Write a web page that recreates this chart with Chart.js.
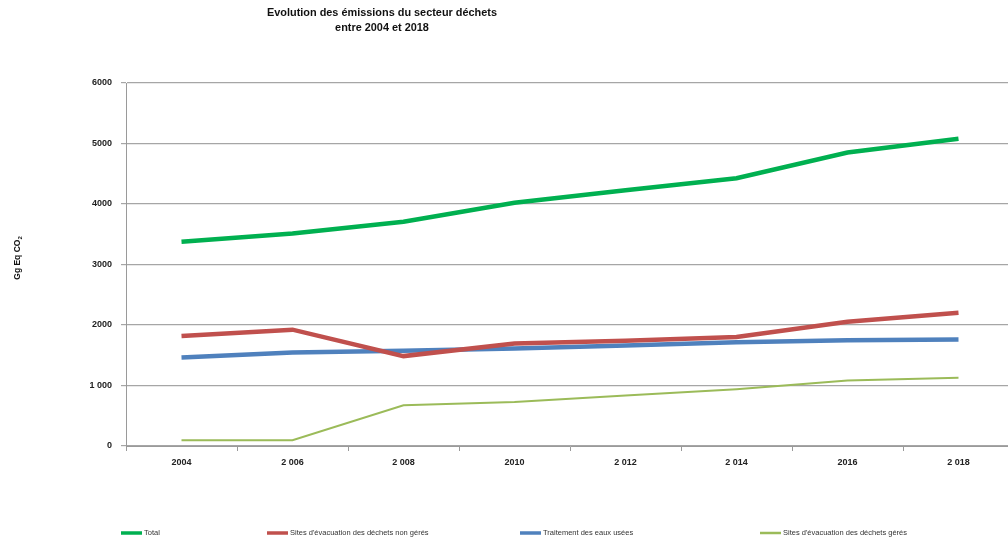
<!DOCTYPE html>
<html>
<head>
<meta charset="utf-8">
<script src="https://cdn.jsdelivr.net/npm/chart.js@4/dist/chart.umd.min.js"></script>
<style>
  html, body { margin: 0; padding: 0; background: #fff; overflow: hidden; }
  #wrap { width: 1008px; height: 541px; overflow: hidden; position: relative; }
  #chart { display: block; }
</style>
</head>
<body>
<div id="wrap"><canvas id="chart" width="1014" height="541"></canvas></div>
<script>
const years = ["2004", "2 006", "2 008", "2010", "2 012", "2 014", "2016", "2 018"];
const yTickLabels = { 0: "0", 1000: "1 000", 2000: "2000", 3000: "3000", 4000: "4000", 5000: "5000", 6000: "6000" };

const total = [3376, 3514, 3707, 4022, 4226, 4425, 4851, 5077];
const sitesNonGeres = [1818, 1923, 1486, 1696, 1740, 1801, 2055, 2204];
const eauxUsees = [1464, 1547, 1575, 1613, 1663, 1713, 1746, 1762];
const sitesGeres = [94, 94, 674, 729, 834, 939, 1083, 1127];

const seriesNames = [
  "Total",
  "Sites d'évacuation des déchets non gérés",
  "Traitement des eaux usées",
  "Sites d'évacuation des déchets gérés",
];
const titleLines = ["Evolution des émissions du secteur déchets", "entre 2004 et 2018"];

const FONT = "'Liberation Sans Narrow', 'Liberation Sans', sans-serif";

// title, rotated axis label with subscript, and a spread-out legend row
const decorations = {
  id: "decorations",
  afterDraw(chart) {
    const ctx = chart.ctx;
    ctx.save();
    ctx.fillStyle = "#111";
    ctx.textAlign = "center";
    ctx.textBaseline = "middle";
    ctx.font = "bold 10.9px 'Liberation Sans', sans-serif";
    ctx.fillText(titleLines[0], 382, 13);
    ctx.fillText(titleLines[1], 382, 28);

    // "Gg Eq CO2" rotated
    ctx.translate(18, 258);
    ctx.rotate(-Math.PI / 2);
    ctx.font = "bold 8.5px 'Liberation Sans', sans-serif";
    ctx.textAlign = "left";
    const main = "Gg Eq CO";
    const w = ctx.measureText(main).width;
    const sw = ctx.measureText("2").width * 0.7;
    const x0 = -(w + sw) / 2;
    ctx.fillText(main, x0, 0);
    ctx.font = "bold 6px 'Liberation Sans', sans-serif";
    ctx.fillText("2", x0 + w, 2.5);
    ctx.restore();

    const legendX = [121, 267, 520, 760];
    ctx.save();
    ctx.font = "7.5px " + FONT;
    ctx.textBaseline = "middle";
    ctx.textAlign = "left";
    chart.data.datasets.forEach((ds, i) => {
      const x = legendX[i];
      ctx.strokeStyle = ds.borderColor;
      ctx.lineWidth = ds.borderWidth >= 3 ? 3.5 : 2.5;
      ctx.beginPath();
      ctx.moveTo(x, 533);
      ctx.lineTo(x + 21, 533);
      ctx.stroke();
      ctx.fillStyle = "#333";
      ctx.fillText(ds.label, x + 23, 533);
    });
    ctx.restore();
  },
};

const makeSet = (label, data, color, width) => ({
  label,
  data,
  borderColor: color,
  backgroundColor: color,
  borderWidth: width,
  pointRadius: 0,
  pointHoverRadius: 0,
  tension: 0,
  fill: false,
});

new Chart(document.getElementById("chart"), {
  type: "line",
  data: {
    labels: years,
    datasets: [
      makeSet(seriesNames[0], total, "#00B050", 4.5),
      makeSet(seriesNames[1], sitesNonGeres, "#C0504D", 4.5),
      makeSet(seriesNames[2], eauxUsees, "#4F81BD", 4.5),
      makeSet(seriesNames[3], sitesGeres, "#9BBB59", 2),
    ],
  },
  options: {
    responsive: false,
    animation: false,
    layout: { padding: { top: 83, left: 0, right: 0, bottom: 0 } },
    plugins: {
      legend: { display: false },
      title: { display: false },
      tooltip: { enabled: false },
    },
    scales: {
      x: {
        offset: true,
        afterFit: (scale) => { scale.height = 95; },
        grid: { drawOnChartArea: false, offset: true, tickLength: 5, color: "#9a9a9a" },
        border: { color: "#9a9a9a", width: 1 },
        ticks: {
          color: "#222",
          padding: 6,
          maxRotation: 0,
          font: { family: FONT, size: 9, weight: "bold" },
        },
      },
      y: {
        min: 0,
        max: 6000,
        afterFit: (scale) => { scale.width = 126; },
        grid: { color: "#a6a6a6", tickLength: 5, lineWidth: 1.2 },
        border: { color: "#9a9a9a", width: 1 },
        ticks: {
          stepSize: 1000,
          color: "#222",
          padding: 9,
          font: { family: FONT, size: 9, weight: "bold" },
          callback: (v) => yTickLabels[v] ?? String(v),
        },
      },
    },
  },
  plugins: [decorations],
});
</script>
</body>
</html>
